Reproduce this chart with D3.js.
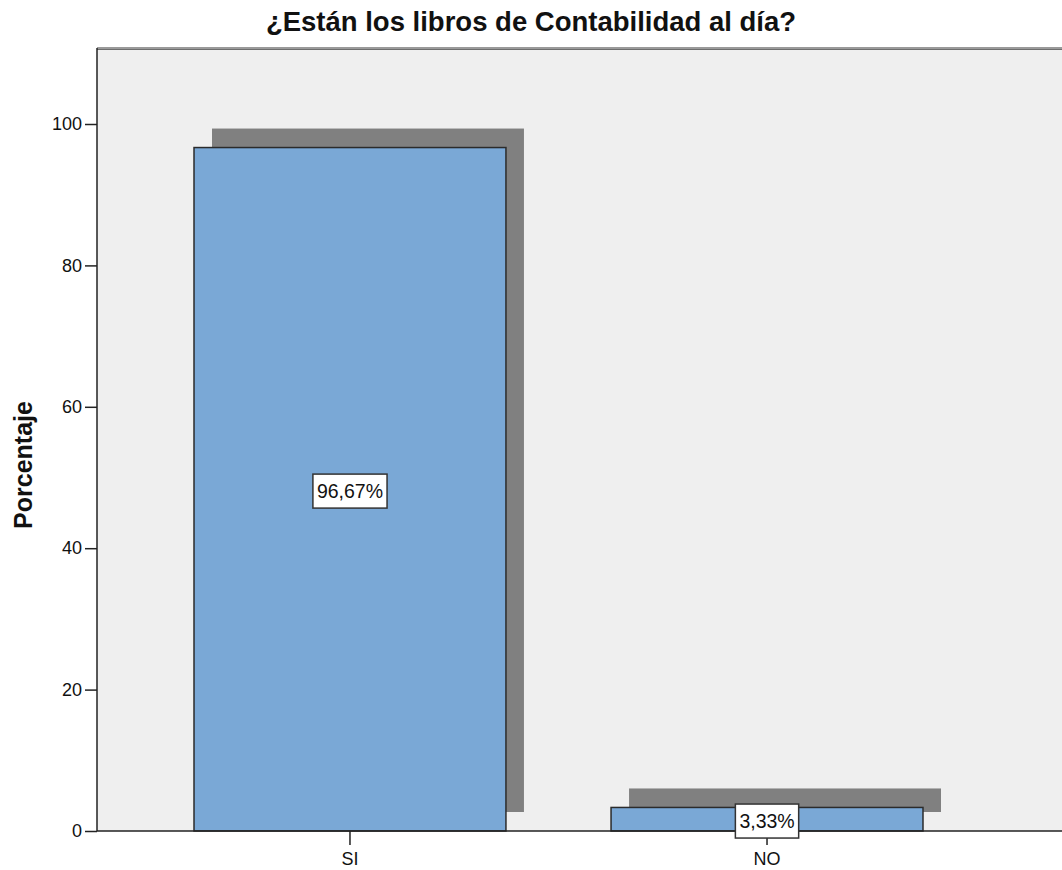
<!DOCTYPE html>
<html>
<head>
<meta charset="utf-8">
<script src="https://cdn.jsdelivr.net/npm/d3@7"></script>
<style>
  body { margin: 0; background: #fff; }
  svg text { font-family: "Liberation Sans", Arial, sans-serif; }
</style>
</head>
<body>
<div id="chart"></div>
<script>
  // data
  const categories = ["SI", "NO"];
  const percentages = [96.67, 3.33];
  const valueLabels = ["96,67%", "3,33%"];
  const yTicks = [0, 20, 40, 60, 80, 100];

  const width = 1062, height = 870;
  const plot = {left: 97, top: 48, right: 1062, bottom: 831};

  const svg = d3.select("#chart").append("svg")
    .attr("width", width)
    .attr("height", height);

  const x = d3.scaleBand()
    .domain(categories)
    .range([plot.left, 1020])
    .paddingInner(0.252)
    .paddingOuter(0.2326);

  const y = d3.scaleLinear()
    .domain([0, 110.75])
    .range([plot.bottom, plot.top]);

  // plot background
  svg.append("rect")
    .attr("x", plot.left).attr("y", plot.top)
    .attr("width", plot.right - plot.left)
    .attr("height", plot.bottom - plot.top)
    .attr("fill", "#efefef");

  // top frame line (greyish)
  svg.append("line")
    .attr("x1", plot.left).attr("x2", plot.right)
    .attr("y1", plot.top + 0.5).attr("y2", plot.top + 0.5)
    .attr("stroke", "#9a9a9a").attr("stroke-width", 3);
  svg.append("line")
    .attr("x1", plot.left).attr("x2", plot.right)
    .attr("y1", plot.top + 1.5).attr("y2", plot.top + 1.5)
    .attr("stroke", "#6e6e6e").attr("stroke-width", 1);

  const shadowDx = 18, shadowDy = -19;
  const data = categories.map((c, i) => ({cat: c, val: percentages[i], lab: valueLabels[i]}));

  // shadows
  svg.selectAll(".shadow")
    .data(data)
    .enter().append("rect")
    .attr("class", "shadow")
    .attr("x", d => x(d.cat) + shadowDx)
    .attr("y", d => y(d.val) + shadowDy)
    .attr("width", x.bandwidth())
    .attr("height", d => y(0) - y(d.val))
    .attr("fill", "#808080");

  // bars
  svg.selectAll(".bar")
    .data(data)
    .enter().append("rect")
    .attr("class", "bar")
    .attr("x", d => x(d.cat))
    .attr("y", d => y(d.val))
    .attr("width", x.bandwidth())
    .attr("height", d => y(0) - y(d.val))
    .attr("fill", "#7aa8d6")
    .attr("stroke", "#2b2b2b")
    .attr("stroke-width", 1.5);

  // axes
  const yAxis = svg.append("g")
    .attr("transform", "translate(" + plot.left + ",0)")
    .call(d3.axisLeft(y).tickValues(yTicks).tickSize(12).tickPadding(3));
  yAxis.select(".domain").remove();
  yAxis.selectAll("line").attr("stroke", "#222").attr("stroke-width", 1.5);
  yAxis.selectAll("text").attr("font-size", 18).attr("fill", "#111")
    .style("font-family", "'Liberation Sans', Arial, sans-serif");

  const xAxis = svg.append("g")
    .attr("transform", "translate(0," + plot.bottom + ")")
    .call(d3.axisBottom(x).tickSize(14).tickPadding(7));
  xAxis.select(".domain").remove();
  xAxis.selectAll("line").attr("stroke", "#222").attr("stroke-width", 1.5);
  xAxis.selectAll("text").attr("font-size", 18).attr("fill", "#111")
    .style("font-family", "'Liberation Sans', Arial, sans-serif");

  svg.append("line")
    .attr("x1", plot.left).attr("x2", plot.left)
    .attr("y1", plot.top).attr("y2", plot.bottom)
    .attr("stroke", "#222").attr("stroke-width", 1.5);
  svg.append("line")
    .attr("x1", plot.left).attr("x2", plot.right)
    .attr("y1", plot.bottom).attr("y2", plot.bottom)
    .attr("stroke", "#222").attr("stroke-width", 1.5);

  // value labels in boxes
  const labels = svg.selectAll(".vlab")
    .data(data)
    .enter().append("g")
    .attr("class", "vlab")
    .attr("transform", d => "translate(" + (x(d.cat) + x.bandwidth() / 2) + "," + ((y(d.val) + y(0)) / 2 + 2) + ")");

  labels.append("text")
    .attr("text-anchor", "middle")
    .attr("dy", "0.35em")
    .attr("font-size", 19.5)
    .attr("fill", "#111")
    .text(d => d.lab);

  labels.each(function() {
    const g = d3.select(this);
    const bb = g.select("text").node().getBBox();
    g.insert("rect", "text")
      .attr("x", bb.x - 4).attr("y", bb.y - 6)
      .attr("width", bb.width + 8).attr("height", bb.height + 12)
      .attr("fill", "#fff")
      .attr("stroke", "#333").attr("stroke-width", 1.5);
  });

  // title and y label
  svg.append("text")
    .attr("x", 531).attr("y", 31)
    .attr("text-anchor", "middle")
    .attr("font-size", 27.5)
    .attr("font-weight", "bold")
    .attr("fill", "#111")
    .text("¿Están los libros de Contabilidad al día?");

  svg.append("text")
    .attr("transform", "translate(32,465) rotate(-90)")
    .attr("text-anchor", "middle")
    .attr("font-size", 25)
    .attr("font-weight", "bold")
    .attr("fill", "#111")
    .text("Porcentaje");
</script>
</body>
</html>
